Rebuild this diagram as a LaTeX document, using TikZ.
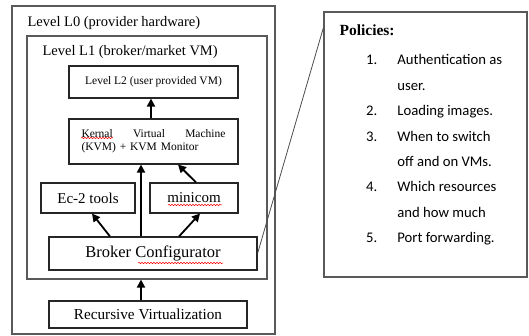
\documentclass[tikz,border=0pt]{standalone}
\usepackage{fontspec}
\setmainfont{Liberation Serif}
\newfontfamily\calibri{Carlito}
\usetikzlibrary{arrows.meta,decorations.pathmorphing}
\tikzstyle{outer} = [draw=black!65, line width=1.1pt, inner sep=0pt]
\tikzstyle{box} = [draw=black!85, line width=1.1pt, inner sep=0pt, align=center]
\tikzstyle{arrow} = [line width=1.8pt, -{Triangle[length=8pt,width=8pt]}]
\tikzstyle{spell} = [red, line width=0.5pt, decorate, decoration={snake, amplitude=0.7pt, segment length=3pt}]

\begin{document}
\begin{tikzpicture}[x=1pt, y=-1pt]
                    \useasboundingbox (0,0) rectangle (529,336);
                    \node[outer, minimum width=263pt, minimum height=328pt] (l0) at (143.5,170) {};
                    \node[anchor=west, font=\fontsize{14.5}{17}\selectfont] (l0lab) at (24,23) {Level L0 (provider hardware)};
                    \node[outer, minimum width=240pt, minimum height=243pt] (l1) at (147,157.5) {};
                    \node[anchor=west, font=\fontsize{14.5}{17}\selectfont] (l1lab) at (39,52) {Level L1 (broker/market VM)};
                    \node[box, minimum width=169pt, minimum height=32pt, font=\fontsize{11.5}{13}\selectfont] (l2) at (153.5,82) {Level L2 (user provided VM)};
                    \node[box, minimum width=169pt, minimum height=45pt, text width=144pt, align=left, font=\fontsize{11.5}{13}\selectfont] (kvm) at (153.5,141.5) {Kernal\hfill Virtual\hfill Machine\\(KVM) + KVM Monitor};
                    \node[box, minimum width=94pt, minimum height=30pt, font=\fontsize{15}{17}\selectfont] (ec2) at (88,198) {Ec-2 tools};
                    \node[box, minimum width=88pt, minimum height=30pt, font=\fontsize{15}{17}\selectfont] (mini) at (194,198) {minicom};
                    \node[box, minimum width=208pt, minimum height=33pt, font=\fontsize{16.5}{19}\selectfont] (broker) at (153,253.5) {Broker Configurator};
                    \node[box, minimum width=198pt, minimum height=27pt, font=\fontsize{15.2}{17}\selectfont] (rv) at (148,314.5) {Recursive Virtualization};
                    \node[outer, minimum width=203pt, minimum height=265pt] (pol) at (425.5,144.5) {};
                    \node[anchor=west, font=\rmfamily\bfseries\fontsize{15.5}{18}\selectfont] (polhead) at (336,30) {Policies:};
                    \node[anchor=north west, inner sep=0pt, font=\calibri\fontsize{14.7}{25.4}\selectfont] (pollist) at (366,47) {\begin{tabular}{@{}r@{\hspace{20pt}}l@{}}
                        1. & Authentication as\\
                           & user.\\
                        2. & Loading images.\\
                        3. & When to switch\\
                           & off and on VMs.\\
                        4. & Which resources\\
                           & and how much\\
                        5. & Port forwarding.
                      \end{tabular}};
                    \draw[arrow] ([xshift=-12pt]broker.north) -- ([xshift=-12.5pt]kvm.south);
                    \draw[arrow] ([xshift=-2.5pt]kvm.north) -- ([xshift=-2.5pt]l2.south);
                    \draw[arrow] ([xshift=-43pt]broker.north) -- ([xshift=4pt]ec2.south);
                    \draw[arrow] ([xshift=26pt]broker.north) -- ([xshift=6pt]mini.south);
                    \draw[arrow] ([xshift=2pt]mini.north) -- ([xshift=24.5pt]kvm.south);
                    \draw[arrow] ([xshift=-7pt]rv.north) -- ([xshift=-6pt]l1.south);
                    \draw[black!70, line width=0.8pt] (broker.east) -- ([yshift=-16pt]pol.north west);
                    \draw[spell] (81,138) -- (113,138);
                    \draw[spell] (168,205) -- (222,205);
                    \draw[spell] (138,263) -- (223,263);
                \end{tikzpicture}
\end{document}
